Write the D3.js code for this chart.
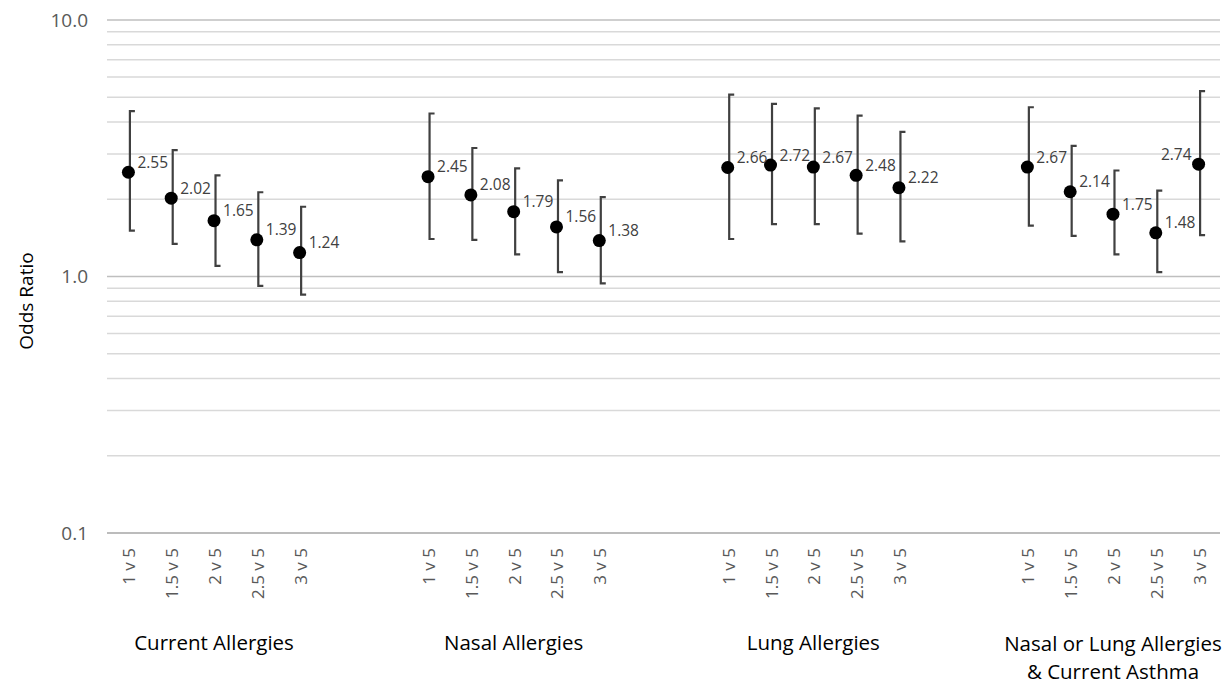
<!DOCTYPE html>
<html>
<head>
<meta charset="utf-8">
<script src="https://cdn.jsdelivr.net/npm/d3@7"></script>
<style>
  body { margin: 0; background: #fff; }
  svg { font-family: "Open Sans", "Noto Sans", sans-serif; }
</style>
</head>
<body>
<div id="chart"></div>
<script>
// groups and comparisons
var groups = ["Current Allergies", "Nasal Allergies", "Lung Allergies", "Nasal or Lung Allergies|& Current Asthma"];
var comparisons = ["1 v 5", "1.5 v 5", "2 v 5", "2.5 v 5", "3 v 5"];

// odds ratios, one array per group
var oddsCurrent = [2.55, 2.02, 1.65, 1.39, 1.24];
var oddsNasal   = [2.45, 2.08, 1.79, 1.56, 1.38];
var oddsLung    = [2.66, 2.72, 2.67, 2.48, 2.22];
var oddsAsthma  = [2.67, 2.14, 1.75, 1.48, 2.74];

// lower / upper confidence limits
var lowCurrent  = [1.51, 1.34, 1.10, 0.92, 0.85];
var highCurrent = [4.41, 3.11, 2.48, 2.13, 1.87];
var lowNasal    = [1.40, 1.39, 1.22, 1.04, 0.94];
var highNasal   = [4.32, 3.17, 2.64, 2.37, 2.04];
var lowLung     = [1.40, 1.60, 1.60, 1.47, 1.37];
var highLung    = [5.12, 4.71, 4.52, 4.24, 3.66];
var lowAsthma   = [1.58, 1.44, 1.22, 1.04, 1.45];
var highAsthma  = [4.57, 3.23, 2.59, 2.16, 5.28];

var yTicks = [0.1, 1, 10];

var odds = [oddsCurrent, oddsNasal, oddsLung, oddsAsthma];
var lows = [lowCurrent, lowNasal, lowLung, lowAsthma];
var highs = [highCurrent, highNasal, highLung, highAsthma];

var points = [];
groups.forEach(function(g, gi) {
  comparisons.forEach(function(c, ci) {
    points.push({
      group: gi, comp: c, slot: gi * 7 + ci,
      value: odds[gi][ci], low: lows[gi][ci], high: highs[gi][ci],
      leftLabel: (gi == 3 && ci == 4)
    });
  });
});

var W = 1231, H = 687;
var margin = {top: 20, right: 11, bottom: 154, left: 107};

var svg = d3.select("#chart").append("svg")
  .attr("width", W).attr("height", H);

var x = d3.scaleBand()
  .domain(d3.range(26))
  .range([margin.left, W - margin.right]);

var y = d3.scaleLog()
  .domain([0.1, 10])
  .range([H - margin.bottom, margin.top]);

function cx(d) { return x(d.slot) + x.bandwidth() / 2; }

// gridlines: minor first, then major
var minor = [];
[0.1, 1].forEach(function(base) {
  for (var k = 2; k <= 9; k++) minor.push(base * k);
});

svg.append("g").selectAll("line").data(minor).enter()
  .append("line")
    .attr("x1", margin.left).attr("x2", W - margin.right)
    .attr("y1", function(d) { return y(d); })
    .attr("y2", function(d) { return y(d); })
    .attr("stroke", "#d9d9d9")
    .attr("stroke-width", 1.5);

svg.append("g").selectAll("line").data(yTicks).enter()
  .append("line")
    .attr("x1", margin.left).attr("x2", W - margin.right)
    .attr("y1", function(d) { return y(d); })
    .attr("y2", function(d) { return y(d); })
    .attr("stroke", function(d) { return d == 0.1 ? "#a6a6a6" : "#bfbfbf"; })
    .attr("stroke-width", 1.5);

// y tick labels
svg.append("g").selectAll("text").data(yTicks).enter()
  .append("text")
    .attr("x", 88)
    .attr("y", function(d) { return y(d); })
    .attr("dy", "0.35em")
    .attr("text-anchor", "end")
    .attr("fill", "#595959")
    .style("font-size", "19px")
    .text(function(d) { return d3.format(".1f")(d); });

svg.append("text")
  .attr("transform", "translate(33,301) rotate(-90)")
  .attr("text-anchor", "middle")
  .attr("fill", "#000")
  .style("font-size", "19px")
  .text("Odds Ratio");

// x category labels (rotated)
svg.append("g").selectAll("text").data(points).enter()
  .append("text")
    .attr("transform", function(d) { return "translate(" + (cx(d) + 7) + ",548) rotate(-90)"; })
    .attr("text-anchor", "end")
    .attr("fill", "#595959")
    .style("font-size", "17px")
    .text(function(d) { return d.comp; });

// group labels
groups.forEach(function(g, gi) {
  var mid = (x(gi * 7) + x(gi * 7 + 4) + x.bandwidth()) / 2;
  var lines = g.split("|");
  var t = svg.append("text")
    .attr("text-anchor", "middle")
    .attr("fill", "#000")
    .style("font-size", "20.5px");
  lines.forEach(function(l, li) {
    t.append("tspan")
      .attr("x", mid)
      .attr("y", (lines.length > 1 ? 651 : 650) + li * 28)
      .text(l);
  });
});

// error bars
var bars = svg.append("g")
  .attr("stroke", "#404040")
  .attr("stroke-width", 2.2)
  .attr("fill", "none");

bars.selectAll("path").data(points).enter()
  .append("path")
    .attr("d", function(d) {
      var xx = cx(d) + 1.5, t = y(d.high), b = y(d.low);
      return "M" + (xx + 5) + "," + t + "H" + xx + "V" + b + "H" + (xx + 5);
    });

// points
svg.append("g").selectAll("circle").data(points).enter()
  .append("circle")
    .attr("cx", cx)
    .attr("cy", function(d) { return y(d.value); })
    .attr("r", 6.5)
    .attr("fill", "#000");

// value labels
svg.append("g").selectAll("text").data(points).enter()
  .append("text")
    .attr("x", function(d) { return d.leftLabel ? cx(d) - 7 : cx(d) + 9; })
    .attr("y", function(d) { return y(d.value) - 4.5; })
    .attr("text-anchor", function(d) { return d.leftLabel ? "end" : "start"; })
    .attr("fill", "#404040")
    .style("font-size", "15.5px")
    .text(function(d) { return d3.format(".2f")(d.value); });
</script>
</body>
</html>
